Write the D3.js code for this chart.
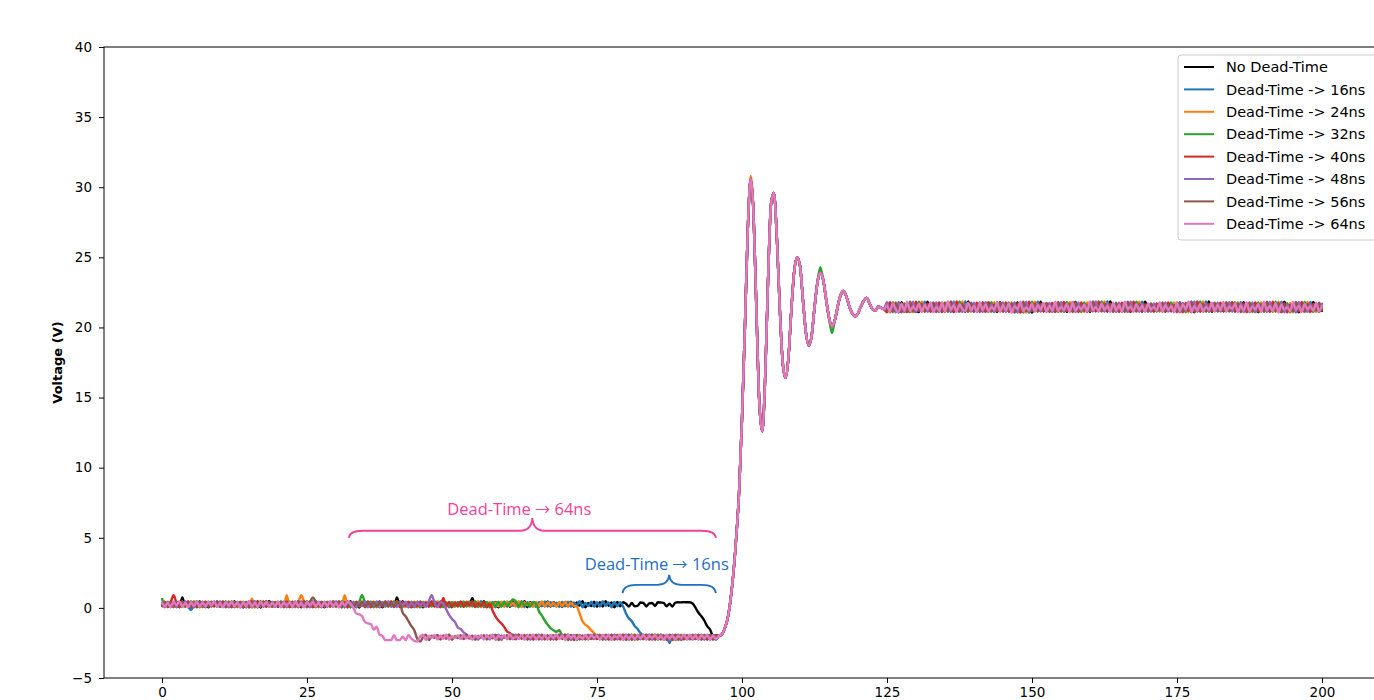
<!DOCTYPE html>
<html>
<head>
<meta charset="utf-8">
<script src="https://cdn.jsdelivr.net/npm/d3@7"></script>
<style>
  body { margin: 0; background: #fff; }
  svg { display: block; font-family: "DejaVu Sans", sans-serif; }
</style>
</head>
<body>
<svg id="chart"></svg>
<script>
const seriesNames = ["No Dead-Time", "Dead-Time -> 16ns", "Dead-Time -> 24ns", "Dead-Time -> 32ns",
  "Dead-Time -> 40ns", "Dead-Time -> 48ns", "Dead-Time -> 56ns", "Dead-Time -> 64ns"];
const seriesColors = ["#000000", "#1f77b4", "#ff7f0e", "#2ca02c", "#d62728", "#9467bd", "#8c564b", "#e377c2"];
const xTicks = [0, 25, 50, 75, 100, 125, 150, 175, 200];
const yTicks = [-5, 0, 5, 10, 15, 20, 25, 30, 35, 40];
const sampleStep = 0.5; // ns

// time (ns) where each trace leaves the +0.3 V plateau, then its falling staircase
const dropStart = [91.0, 79.5, 71.5, 64.5, 56.5, 48.5, 41.0, 32.5];
const dropSteps = [
  [0.4, 0.3, 0.0, -0.35, -0.6, -0.9, -1.3, -1.55, -2.0],
  [0.1, -0.4, -0.75, -0.95, -1.3, -1.5, -1.8, -2.0],
  [0.1, -0.4, -0.95, -1.2, -1.35, -1.6, -1.8, -2.0],
  [0.3, -0.25, -0.55, -0.9, -1.2, -1.45, -1.6, -1.7, -1.6, -2.0],
  [0.3, -0.2, -0.6, -0.9, -1.1, -1.35, -1.7, -1.8, -2.1],
  [0.3, -0.1, -0.5, -0.8, -1.0, -1.4, -1.5, -1.75, -1.9, -2.1],
  [0.3, -0.35, -0.6, -0.95, -1.3, -1.6, -2.2, -2.4, -2.1],
  [0.3, 0.0, -0.4, -0.45, -0.6, -1.0, -1.1, -1.15, -1.55, -1.35, -1.9, -2.0, -2.3, -2.3, -2.3,
   -1.95, -2.3, -2.3, -2.05, -2.3, -1.95, -2.2, -2.35, -2.4, -2.05]
];

// ripple on the high plateau, one sample per 0.5 ns
const hiRipple = [
  0.10,0.42,0.08,0.38,0.15,0.45,0.05,0.40,0.12,0.35,0.06,0.44,0.18,0.48,0.09,0.36,0.04,0.41,0.14,0.46,
  0.07,0.39,0.11,0.43,0.20,0.47,0.08,0.34,0.05,0.40,0.16,0.45,0.10,0.38,0.03,0.42,0.13,0.49,0.09,0.37,
  0.06,0.44,0.17,0.41,0.08,0.36,0.12,0.46,0.05,0.39,0.15,0.43,0.07,0.48,0.11,0.35,0.04,0.40,0.19,0.45,
  0.09,0.38,0.06,0.42,0.14,0.47,0.10,0.36,0.03,0.41,0.16,0.44,0.08,0.39,0.12,0.46,0.05,0.37,0.18,0.43,
  0.07,0.40,0.13,0.48,0.09,0.35,0.06,0.42,0.15,0.45,0.04,0.38,0.11,0.44,0.17,0.39,0.08,0.47,0.10,0.36,
  0.05,0.41,0.14,0.43,0.07,0.37,0.12,0.46,0.09,0.40,0.16,0.48,0.06,0.35,0.13,0.42,0.04,0.39,0.11,0.45,
  0.08,0.44,0.15,0.38,0.10,0.47,0.05,0.41,0.18,0.36,0.07,0.43,0.12,0.46,0.09,0.40,0.14,0.37,0.06,0.42,
  0.11,0.45,0.08,0.39,0.16,0.48,0.04,0.36,0.13,0.44,0.07,0.41,0.10,0.47,0.15,0.38,0.05,0.43,0.12,0.40,
  0.09,0.46,0.06,0.37,0.14,0.42,0.10,0.45,0.03,0.39
];
// the no-dead-time trace between 80 and 90.5 ns (only it is still high there)
const blackHigh = [0.30,0.10,0.35,0.12,0.15,0.38,0.36,0.10,0.32,0.35,0.14,0.40,
  0.38,0.36,0.12,0.30,0.10,0.38,0.40,0.39,0.41,0.40];

// ripple on the low plateau
const loRipple = [
  -2.25,-1.95,-2.18,-1.90,-2.28,-2.00,-2.12,-1.92,-2.26,-1.97,-2.20,-1.89,-2.30,-2.02,-2.15,-1.94,-2.24,-1.99,-2.10,-1.91,
  -2.27,-1.96,-2.19,-1.93,-2.29,-2.03,-2.14,-1.90,-2.23,-1.98,-2.17,-1.92,-2.28,-2.01,-2.11,-1.95,-2.25,-1.89,-2.21,-1.97,
  -2.13,-1.93,-2.26,-2.00,-2.18,-1.91,-2.30,-1.96,-2.16,-1.94,-2.24,-2.02,-2.12,-1.90,-2.27,-1.98,-2.20,-1.92,-2.29,-1.99,
  -2.15,-1.95,-2.22,-1.89,-2.28,-2.04,-2.11,-1.93,-2.25,-1.97,-2.19,-1.91,-2.30,-2.00,-2.14,-1.94,-2.23,-1.96,-2.17,-1.90,
  -2.26,-2.01,-2.13,-1.92,-2.29,-1.98,-2.20,-1.95,-2.16,-1.90,-2.27,-2.03,-2.12,-1.94,-2.24,-1.97,-2.18,-1.91,-2.30,-1.99,
  -2.14,-1.93,-2.25,-1.96,-2.21,-1.89,-2.28,-2.02,-2.15,-1.95,-2.23,-1.92,-2.19,-1.98,-2.27,-2.00,-2.11,-1.94,-2.26,-1.97,
  -2.17,-1.91,-2.29,-1.99,-2.13,-1.95,-2.24,-1.90,-2.20,-2.03,-2.16,-1.93,-2.28,-1.96,-2.12,-1.92,-2.25,-2.01,-2.18,-1.94,
  -2.27,-1.97,-2.14,-1.90,-2.22,-1.98,-2.30,-1.93,-2.15,-1.96,-2.26,-2.00,-2.19,-1.91,-2.23,-1.95,-2.13,-1.99,-2.28,-1.92,
  -2.16,-1.94,-2.25,-2.02,-2.11,-1.90,-2.29,-1.97,-2.20,-1.93,-2.24,-1.96,-2.17,-1.89,-2.27,-2.01,-2.14,-1.95,-2.22,-1.98,
  -2.30,-1.92,-2.18,-1.96,-2.26,-2.00,-2.12,-1.94,-2.23,-1.91,-2.19,-1.97,-2.28,-1.95,-2.15,-1.93,-2.25,-1.99,-2.21,-1.96
];

// switching edge + ringing, 96 .. 124.5 ns (all traces sit on top of each other)
const ringing = [
  -2.0, -1.9, -1.5, -0.8, 0.5, 2.4, 5.0, 8.3,
  13.5, 20.0, 27.0, 30.6, 28.0, 21.0, 14.5, 12.6,
  16.5, 23.5, 28.8, 29.6, 26.5, 21.5, 17.6, 16.4,
  17.8, 21.2, 24.0, 25.0, 24.4, 22.0, 19.7, 18.7,
  19.4, 21.4, 23.2, 23.9, 23.4, 22.0, 20.7, 20.1,
  20.5, 21.5, 22.3, 22.6, 22.2, 21.5, 21.0, 20.8,
  21.0, 21.5, 21.9, 22.1, 21.7, 21.3, 21.2, 21.5,
  21.4, 21.3
];

// ripple on the settled level, from 125 ns
const flatRipple = [
  21.25,21.75,21.15,21.62,21.08,21.80,21.22,21.55,21.12,21.72,21.30,21.10,21.68,21.20,21.84,21.16,21.50,21.24,21.70,21.12,
  21.60,21.28,21.78,21.09,21.48,21.20,21.74,21.14,21.86,21.26,21.58,21.11,21.66,21.30,21.18,21.76,21.22,21.54,21.10,21.80,
  21.24,21.64,21.15,21.46,21.27,21.79,21.12,21.60,21.20,21.72,21.07,21.52,21.30,21.83,21.16,21.44,21.23,21.69,21.13,21.58,
  21.28,21.75,21.11,21.55,21.21,21.82,21.15,21.48,21.25,21.67,21.09,21.78,21.18,21.50,21.29,21.62,21.14,21.85,21.24,21.46,
  21.16,21.70,21.27,21.53,21.10,21.77,21.20,21.60,21.13,21.83,21.32,21.49,21.15,21.66,21.23,21.55,21.12,21.72,21.28,21.47,
  21.20,21.79,21.14,21.58,21.25,21.52,21.08,21.75,21.18,21.63,21.30,21.86,21.11,21.54,21.21,21.68,21.16,21.46,21.26,21.77,
  21.13,21.61,21.24,21.80,21.15,21.49,21.31,21.71,21.09,21.57,21.20,21.78,21.14,21.50,21.28,21.66,21.12,21.84,21.23,21.53,
  21.17,21.73,21.08,21.60,21.27,21.45,21.15,21.81,21.24,21.55,21.10,21.67,21.30,21.51,21.20,21.76,21.14,21.62,21.25,21.48
];

// single samples that stick out of the bands, [ns, V]
const spikes = [
  [[3.5, 0.75], [40.5, 0.75], [53.5, 0.7]],
  [[5, -0.15], [87.5, -2.5]],
  [[15.5, 0.65], [21.5, 0.9], [24, 0.9], [31.5, 0.9], [101.5, 30.8]],
  [[0, 0.7], [34.5, 0.9], [60.5, 0.6], [113.5, 24.3], [115.5, 19.6]],
  [[2, 0.9], [48.5, 0.7]],
  [[46.5, 0.9]],
  [[26, 0.75]],
  []
];

// brace annotations, in data units
const notes = [
  {label: "Dead-Time \u2192 64ns", color: "#f43f9b", from: 32.2, to: 95.5, end: 5.0, line: 5.5, tip: 6.4, textT: 61.6, textV: 6.6},
  {label: "Dead-Time \u2192 16ns", color: "#1f70c1", from: 79.4, to: 95.5, end: 1.05, line: 1.64, tip: 2.35, textT: 85.3, textV: 2.7}
];

class WaveChart {
  constructor(_config) {
    this.config = {
      parentElement: _config.parentElement,
      containerWidth: _config.containerWidth || 1374,
      containerHeight: _config.containerHeight || 700,
      margin: {top: 47, right: -6, bottom: 22, left: 104}
    };
    this.initVis();
  }

  buildTrace(i) {
    const pts = [];
    const n = Math.round(200 / sampleStep);
    const k0 = Math.round(dropStart[i] / sampleStep);
    const steps = dropSteps[i];
    for (let k = 0; k <= n; k++) {
      let v;
      if (k < k0) v = (i === 0 && k >= 160) ? blackHigh[k - 160] : hiRipple[k + i];
      else if (k < k0 + steps.length) v = steps[k - k0];
      else if (k < 192) v = loRipple[k + i];
      else if (k < 250) v = ringing[k - 192];
      else v = flatRipple[k - 250 + i];
      pts.push({t: k * sampleStep, v: v});
    }
    spikes[i].forEach(([t, v]) => { pts[Math.round(t / sampleStep)].v = v; });
    return pts;
  }

  initVis() {
    let vis = this;
    vis.width = vis.config.containerWidth - vis.config.margin.left - vis.config.margin.right;
    vis.height = vis.config.containerHeight - vis.config.margin.top - vis.config.margin.bottom;

    vis.xScale = d3.scaleLinear().domain([-10, 210]).range([0, vis.width]);
    vis.yScale = d3.scaleLinear().domain([-5, 40]).range([vis.height, 0]);

    vis.svg = d3.select(vis.config.parentElement)
      .attr('width', vis.config.containerWidth)
      .attr('height', vis.config.containerHeight);

    vis.chart = vis.svg.append('g')
      .attr('transform', `translate(${vis.config.margin.left},${vis.config.margin.top})`);

    vis.chart.append('clipPath').attr('id', 'plot-clip')
      .append('rect').attr('width', vis.width).attr('height', vis.height);

    vis.xAxis = d3.axisBottom(vis.xScale).tickValues(xTicks).tickSize(5).tickPadding(4);
    vis.yAxis = d3.axisLeft(vis.yScale).tickValues(yTicks).tickSize(5).tickPadding(7);

    vis.xAxisGroup = vis.chart.append('g')
      .attr('transform', `translate(0,${vis.height})`)
      .call(vis.xAxis);
    vis.yAxisGroup = vis.chart.append('g').call(vis.yAxis);
    vis.chart.selectAll('.domain').remove();
    vis.chart.selectAll('.tick text').attr('font-size', 13.5).attr('font-family', 'DejaVu Sans').attr('fill', '#000');
    vis.chart.selectAll('.tick line').attr('stroke', '#000');

    vis.svg.append('text')
      .attr('transform', `translate(62,${vis.config.margin.top + vis.height / 2}) rotate(-90)`)
      .attr('text-anchor', 'middle')
      .attr('font-weight', 'bold')
      .attr('font-size', 13)
      .text('Voltage (V)');

    vis.renderVis();
  }

  renderVis() {
    let vis = this;
    vis.data = seriesNames.map((name, i) => ({name: name, color: seriesColors[i], values: vis.buildTrace(i)}));

    vis.line = d3.line()
      .x(d => vis.xScale(d.t))
      .y(d => vis.yScale(d.v))
      .curve(d3.curveMonotoneX);

    vis.chart.append('g').attr('clip-path', 'url(#plot-clip)')
      .selectAll('path')
      .data(vis.data)
      .join('path')
      .attr('fill', 'none')
      .attr('stroke', d => d.color)
      .attr('stroke-width', 2.4)
      .attr('stroke-linejoin', 'round')
      .attr('d', d => vis.line(d.values));

    // braces
    notes.forEach(n => {
      const x1 = vis.xScale(n.from), x2 = vis.xScale(n.to), xm = (x1 + x2) / 2;
      const yE = vis.yScale(n.end), yL = vis.yScale(n.line), yT = vis.yScale(n.tip);
      const r = Math.min(14, (x2 - x1) / 6), r2 = Math.min(12, (x2 - x1) / 7);
      const p = d3.path();
      p.moveTo(x1, yE);
      p.quadraticCurveTo(x1 + 1, yL, x1 + r, yL);
      p.lineTo(xm - r2, yL);
      p.quadraticCurveTo(xm - 1, yL, xm, yT);
      p.quadraticCurveTo(xm + 1, yL, xm + r2, yL);
      p.lineTo(x2 - r, yL);
      p.quadraticCurveTo(x2 - 1, yL, x2, yE);
      vis.chart.append('path')
        .attr('d', p.toString())
        .attr('fill', 'none')
        .attr('stroke', n.color)
        .attr('stroke-width', 1.8);
      const parts = n.label.split(' \u2192 ');
      const txt = vis.chart.append('text')
        .attr('x', vis.xScale(n.textT))
        .attr('y', vis.yScale(n.textV))
        .attr('text-anchor', 'middle')
        .attr('font-family', '"Open Sans", sans-serif')
        .attr('font-size', 16.5)
        .attr('fill', n.color);
      txt.append('tspan').text(parts[0] + ' ');
      txt.append('tspan').attr('font-family', '"Noto Sans CJK JP"').attr('font-size', 15).text('\u2192');
      txt.append('tspan').text(' ' + parts[1]);
    });

    // frame (right side falls outside the window)
    vis.chart.append('rect')
      .attr('width', vis.width).attr('height', vis.height)
      .attr('fill', 'none').attr('stroke', '#000').attr('stroke-width', 1);

    // legend
    const legend = vis.svg.append('g').attr('transform', 'translate(1178,55)');
    legend.append('rect')
      .attr('width', 230).attr('height', 185).attr('rx', 3)
      .attr('fill', '#fff').attr('fill-opacity', 0.8)
      .attr('stroke', '#cccccc');
    const rows = legend.selectAll('g.row')
      .data(vis.data)
      .join('g')
      .attr('class', 'row')
      .attr('transform', (d, i) => `translate(0,${12 + i * 22.4})`);
    rows.append('line')
      .attr('x1', 6).attr('x2', 36)
      .attr('stroke', d => d.color).attr('stroke-width', 2);
    rows.append('text')
      .attr('x', 48).attr('dy', '0.36em')
      .attr('font-size', 14.5)
      .attr('fill', '#000')
      .text(d => d.name);
  }
}

new WaveChart({parentElement: '#chart'});
</script>
</body>
</html>
